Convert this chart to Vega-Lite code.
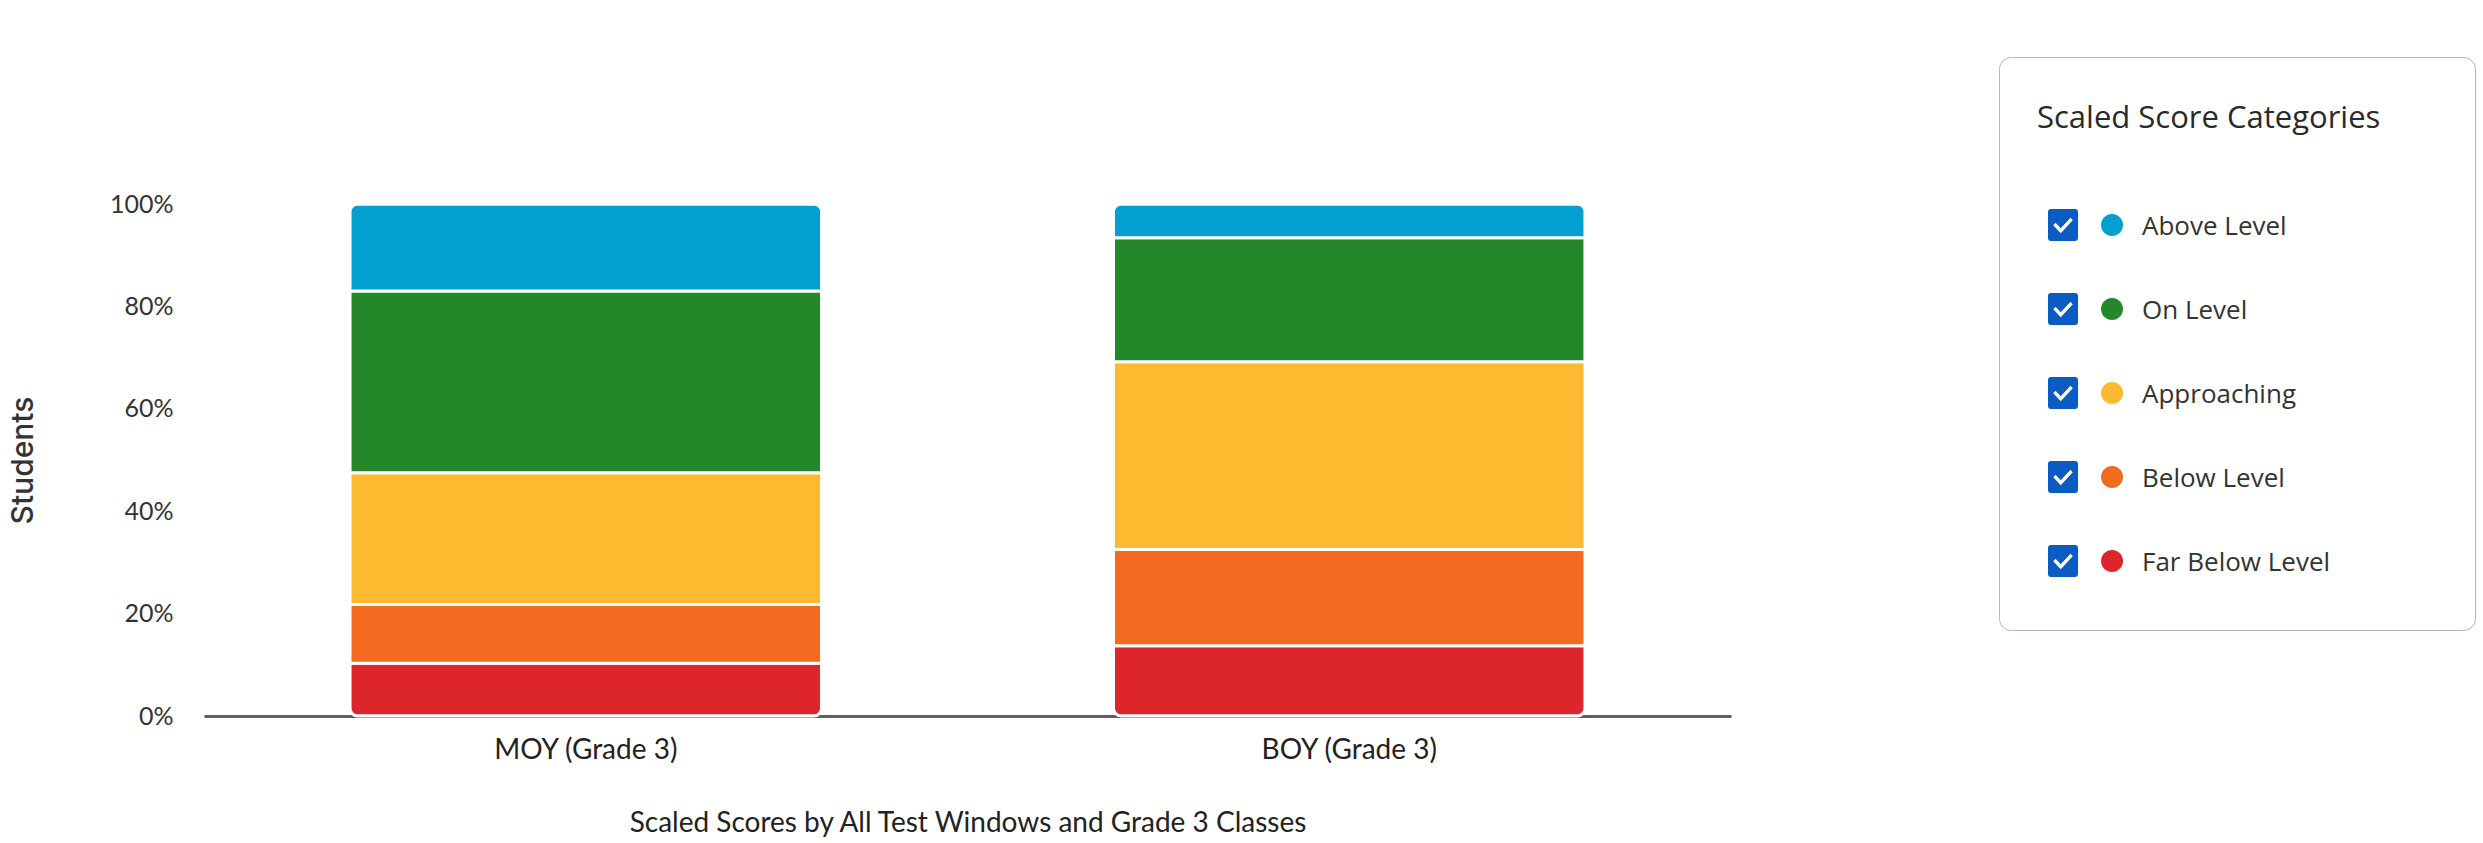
{
  "$schema": "https://vega.github.io/schema/vega-lite/v6.json",
  "autosize": {"type": "none"},
  "width": 1527,
  "height": 512,
  "padding": {"left": 204, "top": 204, "right": 752, "bottom": 127},
  "background": "white",
  "config": {"view": {"stroke": null}, "font": "Lato"},
  "data": {
    "values": [
      {"window": "MOY (Grade 3)", "category": "Far Below Level", "rank": 1, "pct": 0.103},
      {"window": "MOY (Grade 3)", "category": "Below Level", "rank": 2, "pct": 0.115},
      {"window": "MOY (Grade 3)", "category": "Approaching", "rank": 3, "pct": 0.257},
      {"window": "MOY (Grade 3)", "category": "On Level", "rank": 4, "pct": 0.355},
      {"window": "MOY (Grade 3)", "category": "Above Level", "rank": 5, "pct": 0.170},
      {"window": "BOY (Grade 3)", "category": "Far Below Level", "rank": 1, "pct": 0.137},
      {"window": "BOY (Grade 3)", "category": "Below Level", "rank": 2, "pct": 0.188},
      {"window": "BOY (Grade 3)", "category": "Approaching", "rank": 3, "pct": 0.367},
      {"window": "BOY (Grade 3)", "category": "On Level", "rank": 4, "pct": 0.242},
      {"window": "BOY (Grade 3)", "category": "Above Level", "rank": 5, "pct": 0.066}
    ]
  },
  "layer": [
    {
      "mark": {"type": "bar", "cornerRadius": 8, "stroke": "white", "strokeWidth": 3},
      "encoding": {
        "x": {
          "field": "window",
          "type": "nominal",
          "sort": ["MOY (Grade 3)", "BOY (Grade 3)"],
          "scale": {"paddingInner": 0.382, "paddingOuter": 0.191},
          "title": "Scaled Scores by All Test Windows and Grade 3 Classes",
          "axis": {
            "labelAngle": 0,
            "labelLimit": 500,
            "domain": true,
            "domainColor": "#5f5f5f",
            "domainWidth": 3,
            "ticks": false,
            "grid": false,
            "labelFont": "Lato",
            "labelFontSize": 28,
            "labelColor": "#222222",
            "labelPadding": 20,
            "titleFont": "Lato",
            "titleFontSize": 28,
            "titleFontWeight": "normal",
            "titleColor": "#222222",
            "titlePadding": 45
          }
        },
        "y": {
          "field": "pct",
          "type": "quantitative",
          "stack": "zero",
          "scale": {"domain": [0, 1]},
          "title": "Students",
          "axis": {
            "format": ".0%",
            "values": [0, 0.2, 0.4, 0.6, 0.8, 1],
            "domain": false,
            "ticks": false,
            "grid": false,
            "labelFont": "Lato",
            "labelFontSize": 25,
            "labelColor": "#333333",
            "labelPadding": 31,
            "titleFont": "Inter",
            "titleFontSize": 30,
            "titleFontWeight": 500,
            "titleColor": "#333333",
            "titlePadding": 71
          }
        },
        "color": {
          "field": "category",
          "type": "nominal",
          "scale": {
            "domain": ["Above Level", "On Level", "Approaching", "Below Level", "Far Below Level"],
            "range": ["#029fcf", "#24882a", "#fdb92f", "#f26b20", "#dc262b"]
          },
          "legend": {
            "orient": "none",
            "legendX": 1795,
            "legendY": -147,
            "direction": "vertical",
            "title": "Scaled Score Categories\u00a0\u00a0\u00a0\u00a0\u00a0\u00a0\u00a0\u200b",
            "titleLimit": 800,
            "titleFont": "Open Sans",
            "titleFontSize": 31,
            "titleFontWeight": 500,
            "titleColor": "#2a2a2a",
            "titleBaseline": "line-top",
            "titleLineHeight": 49,
            "titlePadding": 46,
            "padding": 38,
            "strokeColor": "#b3b8bd",
            "cornerRadius": 12,
            "symbolType": "M-1,-1M1,1M0.524,0.262A0.262,0.262 0 1,0 1.048,0.262A0.262,0.262 0 1,0 0.524,0.262Z",
            "symbolSize": 7056,
            "symbolStrokeWidth": 0,
            "symbolOpacity": 1,
            "labelFont": "Open Sans",
            "labelFontSize": 26,
            "labelColor": "#333333",
            "labelLimit": 600,
            "labelBaseline": "top",
            "labelOffset": 21,
            "rowPadding": 0
          }
        },
        "order": {"field": "rank", "type": "quantitative", "sort": "ascending"}
      }
    },
    {
      "mark": {"type": "point", "filled": true, "opacity": 0, "color": "#0a5cc2"},
      "encoding": {
        "x": {"field": "window", "type": "nominal", "sort": ["MOY (Grade 3)", "BOY (Grade 3)"]},
        "shape": {
          "field": "rank",
          "type": "nominal",
          "sort": "descending",
          "scale": {
            "range": [
              "M-1,-1M1,1M-0.357,-0.048Q-0.357,-0.119 -0.286,-0.119L0.286,-0.119Q0.357,-0.119 0.357,-0.048L0.357,0.572Q0.357,0.643 0.286,0.643L-0.286,0.643Q-0.357,0.643 -0.357,0.572ZM-0.232,0.270L-0.054,0.460L0.232,0.148L0.179,0.087L-0.054,0.338L-0.179,0.209Z",
              "M-1,-1M1,1M-0.357,-0.048Q-0.357,-0.119 -0.286,-0.119L0.286,-0.119Q0.357,-0.119 0.357,-0.048L0.357,0.572Q0.357,0.643 0.286,0.643L-0.286,0.643Q-0.357,0.643 -0.357,0.572ZM-0.232,0.270L-0.054,0.460L0.232,0.148L0.179,0.087L-0.054,0.338L-0.179,0.209Z",
              "M-1,-1M1,1M-0.357,-0.048Q-0.357,-0.119 -0.286,-0.119L0.286,-0.119Q0.357,-0.119 0.357,-0.048L0.357,0.572Q0.357,0.643 0.286,0.643L-0.286,0.643Q-0.357,0.643 -0.357,0.572ZM-0.232,0.270L-0.054,0.460L0.232,0.148L0.179,0.087L-0.054,0.338L-0.179,0.209Z",
              "M-1,-1M1,1M-0.357,-0.048Q-0.357,-0.119 -0.286,-0.119L0.286,-0.119Q0.357,-0.119 0.357,-0.048L0.357,0.572Q0.357,0.643 0.286,0.643L-0.286,0.643Q-0.357,0.643 -0.357,0.572ZM-0.232,0.270L-0.054,0.460L0.232,0.148L0.179,0.087L-0.054,0.338L-0.179,0.209Z",
              "M-1,-1M1,1M-0.357,-0.048Q-0.357,-0.119 -0.286,-0.119L0.286,-0.119Q0.357,-0.119 0.357,-0.048L0.357,0.572Q0.357,0.643 0.286,0.643L-0.286,0.643Q-0.357,0.643 -0.357,0.572ZM-0.232,0.270L-0.054,0.460L0.232,0.148L0.179,0.087L-0.054,0.338L-0.179,0.209Z"
            ]
          },
          "legend": {
            "orient": "none",
            "legendX": 1817,
            "legendY": -32,
            "direction": "vertical",
            "title": null,
            "padding": 0,
            "symbolSize": 7056,
            "symbolFillColor": "#0a5cc2",
            "symbolStrokeWidth": 0,
            "symbolOpacity": 1,
            "labelExpr": "''",
            "labelFontSize": 26,
            "labelOffset": 0,
            "rowPadding": 0
          }
        }
      }
    }
  ]
}
